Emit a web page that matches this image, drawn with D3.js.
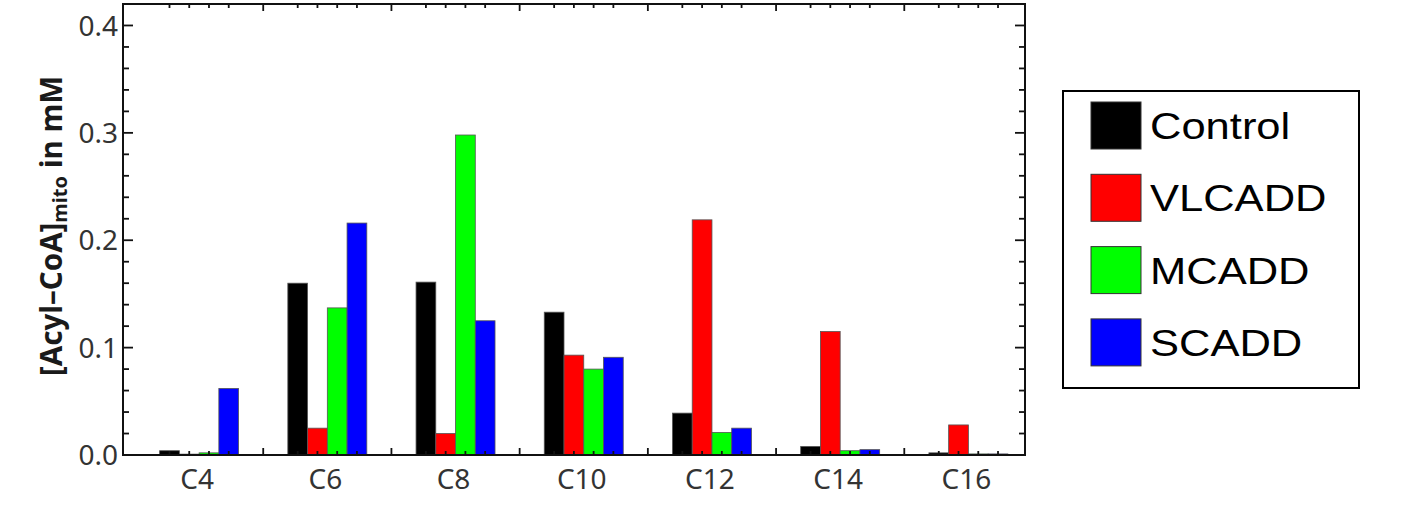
<!DOCTYPE html>
<html>
<head>
<meta charset="utf-8">
<script src="https://cdn.jsdelivr.net/npm/d3@7"></script>
<style>
  html, body { margin: 0; padding: 0; background: #ffffff; }
  svg { display: block; }
</style>
</head>
<body>
<div id="miGrafica"></div>
<script>
// datos
var categorias = ["C4", "C6", "C8", "C10", "C12", "C14", "C16"];
var series = ["Control", "VLCADD", "MCADD", "SCADD"];
var colores = ["#000000", "#ff0000", "#00ff00", "#0000ff"];

var control = [0.004, 0.160, 0.161, 0.133, 0.039, 0.008, 0.002];
var vlcadd  = [0.0008, 0.025, 0.020, 0.093, 0.219, 0.115, 0.028];
var mcadd   = [0.002, 0.137, 0.298, 0.080, 0.021, 0.004, 0.001];
var scadd   = [0.062, 0.216, 0.125, 0.091, 0.025, 0.005, 0.001];

var yMayores = [0, 0.1, 0.2, 0.3, 0.4];
var yEtiquetas = ["0.0", "0.1", "0.2", "0.3", "0.4"];

var valores = [control, vlcadd, mcadd, scadd];

var ancho = 1411, alto = 511;
var marco = { izq: 123, der: 1025, arriba: 4, abajo: 455 };

var svg = d3.select("#miGrafica")
    .append("svg")
    .attr("width", ancho)
    .attr("height", alto);

var y = d3.scaleLinear()
    .domain([0, 0.42])
    .range([marco.abajo, marco.arriba]);

var x = d3.scaleBand()
    .domain(categorias)
    .range([135, 1032.5])
    .padding(0);

// cada grupo ocupa ~62% de su banda
var anchoGrupo = x.bandwidth() * 0.616;
var xSerie = d3.scaleBand()
    .domain(series)
    .range([0, anchoGrupo])
    .padding(0);

var datos = [];
categorias.forEach(function (c, i) {
    series.forEach(function (s, j) {
        datos.push({ cat: c, serie: s, valor: valores[j][i], color: colores[j] });
    });
});

function xBarra(d) {
    return x(d.cat) + (x.bandwidth() - anchoGrupo) / 2 + xSerie(d.serie);
}

var plot = svg.append("g");

plot.append("clipPath").attr("id", "recorte")
    .append("rect")
    .attr("x", marco.izq).attr("y", marco.arriba)
    .attr("width", marco.der - marco.izq)
    .attr("height", marco.abajo - marco.arriba);

var barras = plot.append("g").attr("clip-path", "url(#recorte)");

barras.selectAll("rect")
    .data(datos)
    .enter()
    .append("rect")
    .attr("x", xBarra)
    .attr("y", function (d) { return y(d.valor); })
    .attr("width", xSerie.bandwidth())
    .attr("height", function (d) { return y(0) - y(d.valor); })
    .attr("fill", function (d) { return d.color; })
    .attr("stroke", "#555")
    .attr("stroke-width", 0.8);

// ticks del eje x: limites de grupo (largos) y centro de cada barra (cortos)
var limites = categorias.slice(1).map(function (c) { return x(c); });
limites.push(x(categorias[categorias.length - 1]) + x.bandwidth());
limites = limites.filter(function (v) { return v < marco.der; });

var ticks = plot.append("g")
    .attr("stroke", "#111")
    .attr("stroke-width", 1.8);

[[marco.abajo, -1], [marco.arriba, 1]].forEach(function (lado) {
    ticks.selectAll(null)
        .data(limites)
        .enter().append("line")
        .attr("x1", function (d) { return d; })
        .attr("x2", function (d) { return d; })
        .attr("y1", lado[0])
        .attr("y2", lado[0] + lado[1] * 7);
    ticks.selectAll(null)
        .data(datos)
        .enter().append("line")
        .attr("x1", function (d) { return xBarra(d) + xSerie.bandwidth() / 2; })
        .attr("x2", function (d) { return xBarra(d) + xSerie.bandwidth() / 2; })
        .attr("y1", lado[0])
        .attr("y2", lado[0] + lado[1] * 4);
});

// ticks del eje y (izquierda y derecha)
var yMenores = d3.range(0, 0.42, 0.02).filter(function (v) {
    return Math.abs(Math.round(v * 10) - v * 10) > 1e-6;
});

[[marco.izq, 1], [marco.der, -1]].forEach(function (lado) {
    ticks.selectAll(null)
        .data(yMayores)
        .enter().append("line")
        .attr("x1", lado[0])
        .attr("x2", lado[0] + lado[1] * 10)
        .attr("y1", function (d) { return y(d); })
        .attr("y2", function (d) { return y(d); });
    ticks.selectAll(null)
        .data(yMenores)
        .enter().append("line")
        .attr("x1", lado[0])
        .attr("x2", lado[0] + lado[1] * 6)
        .attr("y1", function (d) { return y(d); })
        .attr("y2", function (d) { return y(d); });
});

// marco
plot.append("rect")
    .attr("x", marco.izq)
    .attr("y", marco.arriba)
    .attr("width", marco.der - marco.izq)
    .attr("height", marco.abajo - marco.arriba)
    .attr("fill", "none")
    .attr("stroke", "#111")
    .attr("stroke-width", 2);

// etiquetas
svg.selectAll("text.ytick")
    .data(yMayores)
    .enter().append("text")
    .attr("class", "ytick")
    .attr("x", marco.izq - 5)
    .attr("y", function (d) { return y(d); })
    .attr("dy", "0.36em")
    .attr("text-anchor", "end")
    .style("font-family", "'Noto Sans', sans-serif")
    .style("font-size", "28px")
    .style("fill", "#333")
    .text(function (d, i) { return yEtiquetas[i]; });

svg.selectAll("text.xtick")
    .data(categorias)
    .enter().append("text")
    .attr("class", "xtick")
    .attr("x", function (d) { return x(d) + x.bandwidth() / 2 - 2; })
    .attr("y", 489)
    .attr("text-anchor", "middle")
    .style("font-family", "'Noto Sans', sans-serif")
    .style("font-size", "28px")
    .style("fill", "#333")
    .text(function (d) { return d; });

var titulo = svg.append("text")
    .attr("transform", "translate(62,226) rotate(-90)")
    .attr("text-anchor", "middle")
    .style("font-family", "'Noto Sans', sans-serif")
    .style("font-weight", "bold")
    .style("font-size", "29.5px")
    .style("fill", "#1a1a1a");
titulo.append("tspan").text("[Acyl\u2013CoA]");
titulo.append("tspan").attr("dy", 5).style("font-size", "20px").text("mito");
titulo.append("tspan").attr("dy", -5).text(" in mM");

// leyenda
var leyenda = svg.append("g");

leyenda.append("rect")
    .attr("x", 1063)
    .attr("y", 91)
    .attr("width", 296)
    .attr("height", 297)
    .attr("fill", "#fff")
    .attr("stroke", "#000")
    .attr("stroke-width", 2);

var filas = leyenda.selectAll("g.fila")
    .data(series)
    .enter().append("g")
    .attr("class", "fila")
    .attr("transform", function (d, i) { return "translate(1091," + (102 + i * 72.3) + ")"; });

filas.append("rect")
    .attr("width", 50)
    .attr("height", 47)
    .attr("fill", function (d, i) { return colores[i]; })
    .attr("stroke", "#333")
    .attr("stroke-width", 1);

filas.append("text")
    .attr("transform", "translate(59,37) scale(1.16,1)")
    .style("font-family", "'Liberation Sans', Arial, sans-serif")
    .style("font-size", "37.5px")
    .style("fill", "#000")
    .text(function (d) { return d; });
</script>
</body>
</html>
